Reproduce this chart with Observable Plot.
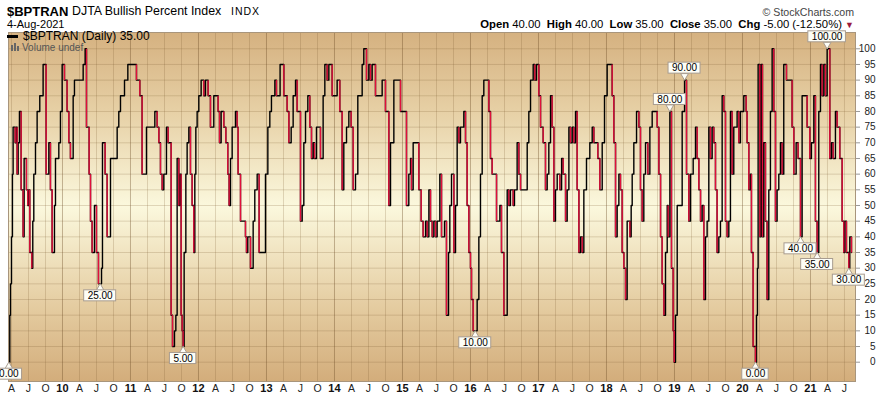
<!DOCTYPE html>
<html><head><meta charset="utf-8">
<script src="https://cdn.jsdelivr.net/npm/d3@7"></script>
<script src="https://cdn.jsdelivr.net/npm/@observablehq/plot@0.6"></script>
<style>
html,body{margin:0;padding:0;background:#fff;}
#wrap{position:relative;width:882px;height:397px;overflow:hidden;font-family:"Liberation Sans",Arial,sans-serif;color:#000;}
#chart{position:absolute;left:0;top:0;}
.ov{position:absolute;white-space:nowrap;line-height:1;z-index:2;}
</style></head><body>
<div id="wrap">
  <div id="chart"></div>
  <div class="ov" style="left:7px;top:4.8px;font-size:13px;font-weight:bold;">$BPTRAN</div>
  <div class="ov" style="left:72px;top:5px;font-size:12.4px;">DJTA Bullish Percent Index</div>
  <div class="ov" style="left:231px;top:5.8px;font-size:10.5px;letter-spacing:1px;">INDX</div>
  <div class="ov" style="left:7px;top:18.9px;font-size:11px;">4-Aug-2021</div>
  <div class="ov" style="right:28px;top:7px;font-size:10.6px;color:#444;">© StockCharts.com</div>
  <div class="ov" style="right:28px;top:18.6px;font-size:11.3px;"><b>Open</b> 40.00&nbsp;&nbsp;<b>High</b> 40.00&nbsp;&nbsp;<b>Low</b> 35.00&nbsp;&nbsp;<b>Close</b> 35.00&nbsp;&nbsp;<b>Chg</b> -5.00 (-12.50%) <span style="color:#9b1b3c;font-size:9px;">▼</span></div>
  <div class="ov" style="left:7px;top:35px;width:11px;height:2.5px;background:#000;"></div>
  <div class="ov" style="left:23px;top:30.3px;font-size:12px;">$BPTRAN (Daily) 35.00</div>
  <div class="ov" style="left:11px;top:45px;width:2px;height:6px;background:#666;"></div>
  <div class="ov" style="left:14px;top:43px;width:2px;height:8px;background:#666;"></div>
  <div class="ov" style="left:17px;top:46px;width:2px;height:5px;background:#666;"></div>
  <div class="ov" style="left:22px;top:43.2px;font-size:10px;color:#555;">Volume undef</div>
</div>
<script>
// $BPTRAN daily values (decimal year, bullish percent)
const bpt2009_2011 = [[2009.211,0],[2009.225,15],[2009.235,25],[2009.250,40],[2009.264,60],[2009.274,75],[2009.304,70],[2009.318,75],[2009.333,60],[2009.348,70],[2009.367,80],[2009.392,55],[2009.421,40],[2009.436,65],[2009.470,55],[2009.490,50],[2009.505,55],[2009.519,35],[2009.549,30],[2009.563,45],[2009.578,60],[2009.603,70],[2009.627,80],[2009.666,85],[2009.715,95],[2009.760,60],[2009.799,70],[2009.823,55],[2009.848,35],[2009.882,50],[2009.897,65],[2009.946,70],[2009.970,80],[2009.995,95],[2010.029,90],[2010.068,80],[2010.093,70],[2010.117,65],[2010.157,85],[2010.176,90],[2010.304,95],[2010.333,100],[2010.353,75],[2010.392,60],[2010.412,45],[2010.436,35],[2010.470,50],[2010.500,35],[2010.529,25],[2010.574,30],[2010.588,70],[2010.627,60],[2010.657,40],[2010.706,65],[2010.804,75],[2010.828,80],[2010.853,85],[2010.912,90],[2010.961,95],[2011.088,90],[2011.137,85],[2011.171,60]];
const bpt2011_2013 = [[2011.235,75],[2011.358,80],[2011.392,75],[2011.417,70],[2011.441,60],[2011.466,55],[2011.490,60],[2011.529,75],[2011.554,70],[2011.598,15],[2011.618,5],[2011.647,10],[2011.667,15],[2011.686,65],[2011.711,50],[2011.725,60],[2011.745,15],[2011.760,10],[2011.774,5],[2011.789,35],[2011.814,60],[2011.833,70],[2011.858,75],[2011.882,60],[2011.907,50],[2011.931,35],[2011.946,60],[2011.961,75],[2011.980,80],[2012.005,85],[2012.039,90],[2012.078,85],[2012.103,90],[2012.142,85],[2012.176,75],[2012.225,85],[2012.289,80],[2012.309,70],[2012.333,80],[2012.372,75],[2012.402,70],[2012.431,60],[2012.451,50],[2012.471,65],[2012.495,75],[2012.544,80],[2012.569,75],[2012.583,60],[2012.618,45],[2012.691,40],[2012.706,35],[2012.725,40],[2012.765,30],[2012.804,45],[2012.828,55],[2012.863,60],[2012.892,35],[2012.985,60],[2013.020,75],[2013.049,80],[2013.073,85],[2013.123,90],[2013.147,85],[2013.200,95]];
const bpt2013_2015 = [[2013.255,85],[2013.304,80],[2013.329,70],[2013.363,75],[2013.392,85],[2013.427,90],[2013.451,80],[2013.500,45],[2013.525,50],[2013.549,70],[2013.574,80],[2013.608,85],[2013.637,75],[2013.662,65],[2013.686,70],[2013.706,65],[2013.735,75],[2013.794,65],[2013.833,85],[2013.858,95],[2013.892,90],[2013.917,95],[2013.966,85],[2014.039,90],[2014.078,80],[2014.113,55],[2014.137,70],[2014.177,75],[2014.211,80],[2014.245,75],[2014.275,55],[2014.309,60],[2014.343,85],[2014.407,95],[2014.431,100],[2014.471,90],[2014.505,95],[2014.529,90],[2014.554,95],[2014.603,85],[2014.701,90],[2014.750,80],[2014.799,50],[2014.824,70],[2014.873,90],[2014.971,80],[2015.059,50],[2015.093,60],[2015.118,65],[2015.132,55],[2015.157,70],[2015.240,55],[2015.275,45],[2015.304,40]];
const bpt2015_2017 = [[2015.339,45],[2015.363,40],[2015.388,55],[2015.412,45],[2015.437,40],[2015.461,45],[2015.486,40],[2015.510,45],[2015.549,60],[2015.574,40],[2015.618,45],[2015.647,15],[2015.677,35],[2015.696,50],[2015.721,60],[2015.755,35],[2015.780,50],[2015.804,75],[2015.829,70],[2015.853,75],[2015.902,80],[2015.927,70],[2015.951,50],[2015.976,35],[2016.000,30],[2016.015,20],[2016.040,10],[2016.098,20],[2016.123,40],[2016.147,60],[2016.172,85],[2016.196,90],[2016.270,80],[2016.294,65],[2016.319,60],[2016.383,45],[2016.432,50],[2016.456,35],[2016.490,15],[2016.540,55],[2016.564,50],[2016.588,55],[2016.628,50],[2016.647,55],[2016.686,70],[2016.711,60],[2016.736,55],[2016.834,70],[2016.858,80],[2016.883,90],[2016.922,95],[2016.946,90],[2016.971,95],[2017.005,85],[2017.030,75],[2017.069,70],[2017.103,55],[2017.128,60],[2017.152,70],[2017.177,85],[2017.201,75],[2017.226,45],[2017.250,55],[2017.275,60],[2017.314,55],[2017.340,65]];
const bpt2017_2019 = [[2017.363,60],[2017.398,45],[2017.422,55],[2017.447,75],[2017.471,70],[2017.496,75],[2017.520,70],[2017.545,80],[2017.569,55],[2017.594,35],[2017.618,40],[2017.643,35],[2017.667,55],[2017.706,65],[2017.755,70],[2017.790,75],[2017.814,70],[2017.873,65],[2017.902,55],[2017.937,70],[2017.971,85],[2018.010,95],[2018.084,85],[2018.108,70],[2018.133,40],[2018.157,50],[2018.182,60],[2018.206,55],[2018.231,35],[2018.255,30],[2018.280,20],[2018.304,45],[2018.344,40],[2018.363,50],[2018.378,60],[2018.402,70],[2018.442,80],[2018.476,75],[2018.500,55],[2018.525,45],[2018.549,60],[2018.574,70],[2018.608,60],[2018.638,75],[2018.672,80],[2018.746,75],[2018.770,60],[2018.795,40],[2018.819,25],[2018.844,15],[2018.868,35],[2018.893,50],[2018.907,40],[2018.932,80],[2018.956,30],[2018.981,10],[2018.996,0],[2019.015,15],[2019.040,50],[2019.113,80],[2019.148,90],[2019.177,60],[2019.211,45],[2019.236,60],[2019.275,65],[2019.309,75],[2019.334,65],[2019.358,55],[2019.383,45],[2019.407,50]];
const bpt2019_2021 = [[2019.431,20],[2019.456,40],[2019.480,45],[2019.505,75],[2019.529,65],[2019.554,75],[2019.578,70],[2019.603,55],[2019.627,35],[2019.652,40],[2019.676,45],[2019.701,85],[2019.725,80],[2019.750,45],[2019.774,40],[2019.799,45],[2019.823,80],[2019.848,60],[2019.872,75],[2019.921,80],[2019.946,70],[2019.970,80],[2020.019,85],[2020.054,80],[2020.068,70],[2020.093,55],[2020.117,60],[2020.132,35],[2020.157,5],[2020.191,0],[2020.206,15],[2020.220,30],[2020.230,95],[2020.255,40],[2020.274,95],[2020.294,40],[2020.313,70],[2020.338,45],[2020.362,20],[2020.387,55],[2020.411,80],[2020.436,100],[2020.460,80],[2020.485,45],[2020.509,55],[2020.534,60],[2020.558,70],[2020.583,60],[2020.607,95],[2020.647,90],[2020.730,75],[2020.755,60],[2020.789,70],[2020.818,65],[2020.853,40],[2020.877,85],[2020.951,75],[2020.990,65],[2021.014,70],[2021.049,85],[2021.073,45],[2021.098,35],[2021.122,80],[2021.147,95],[2021.171,85],[2021.196,95],[2021.220,85],[2021.245,100],[2021.284,65],[2021.309,70],[2021.333,65],[2021.367,80],[2021.392,75],[2021.431,65],[2021.466,45],[2021.490,35],[2021.505,45],[2021.529,35],[2021.564,30],[2021.578,40],[2021.603,35]];

// Annotated extremes
const noteTimes  = [2009.211, 2010.554, 2011.774, 2016.070, 2018.932, 2019.148, 2020.191, 2020.853, 2021.098, 2021.245, 2021.564];
const noteValues = [0, 25, 5, 10, 80, 90, 0, 40, 35, 100, 30];
const noteSides  = ["below","below","below","below","above","above","below","below","below","above","below"];

// Axis ticks
const yTicks = [0,5,10,15,20,25,30,35,40,45,50,55,60,65,70,75,80,85,90,95,100];
const yearTicks = [2010,2011,2012,2013,2014,2015,2016,2017,2018,2019,2020,2021];
const yearLabels = ["10","11","12","13","14","15","16","17","18","19","20","21"];
const quarterLetters = ["A","J","O"];
const xDomain = [2009.206, 2021.662];

const series = [].concat(bpt2009_2011, bpt2011_2013, bpt2013_2015, bpt2015_2017, bpt2017_2019, bpt2019_2021)
  .map(([t, v]) => ({t, v}));

const drops = [];
for (let i = 1; i < series.length; i++) {
  if (series[i].v < series[i-1].v) drops.push({t: series[i].t, v0: series[i-1].v, v1: series[i].v});
}

const quarterTicks = [];
for (let y = 2009; y <= 2021; y++) {
  [0.25, 0.5, 0.75].forEach((q, k) => {
    const t = y + q;
    if (t > xDomain[0] && t < xDomain[1]) quarterTicks.push({t, label: quarterLetters[k]});
  });
}
const qPos = quarterTicks.map(d => d.t);
const qLab = new Map(quarterTicks.map(d => [d.t, d.label]));
const yLab = new Map(yearTicks.map((y, i) => [y, yearLabels[i]]));

const notes = noteTimes.map((t, i) => ({t, v: noteValues[i], side: noteSides[i], text: noteValues[i].toFixed(2)}));

function background(index, scales, values, dims) {
  const ns = "http://www.w3.org/2000/svg";
  const g = document.createElementNS(ns, "g");
  const d = dims || {width: 882, height: 397, marginLeft: 8, marginRight: 27, marginTop: 32, marginBottom: 16};
  g.innerHTML = `<defs><linearGradient id="bpBg" x1="0" y1="0" x2="0" y2="1">
      <stop offset="0" stop-color="#d5b180"/>
      <stop offset="0.22" stop-color="#e6cfa4"/>
      <stop offset="0.5" stop-color="#fbf8dd"/>
      <stop offset="0.78" stop-color="#e5cda2"/>
      <stop offset="1" stop-color="#d3ad7b"/>
    </linearGradient></defs>
    <rect x="${d.marginLeft}" y="${d.marginTop}" width="${d.width - d.marginLeft - d.marginRight}" height="${d.height - d.marginTop - d.marginBottom}" fill="url(#bpBg)"/>`;
  return g;
}

const noteMarks = [];
[4, 5, 6].forEach(len => {
  const sub = notes.filter(n => n.text.length === len);
  const half = len * 2.8 + 2;
  ["below", "above"].forEach(side => {
    const s = sub.filter(n => n.side === side);
    if (!s.length) return;
    const sign = side === "below" ? 1 : -1;
    noteMarks.push(
      Plot.dot(s, {x: "t", y: "v", symbol: "triangle", r: 2.9, rotate: side === "below" ? 0 : 180, dy: sign * 4.3, fill: "#fdfdf6", stroke: "#a89c90", strokeWidth: 1}),
      Plot.rect(s, {x1: "t", x2: "t", y1: "v", y2: "v", insetLeft: -half, insetRight: -half, insetTop: -5.5, insetBottom: -5.5, dy: sign * 12, fill: "#fdfdf6", stroke: "#a89c90", strokeWidth: 1}),
      Plot.text(s, {x: "t", y: "v", text: "text", dy: sign * 12, fontSize: 10, fill: "#000", fontFamily: "Liberation Sans, Arial, sans-serif"})
    );
  });
});

const chart = Plot.plot({
  width: 882,
  height: 397,
  marginLeft: 8,
  marginRight: 27,
  marginTop: 32,
  marginBottom: 16,
  style: {background: "transparent", fontFamily: "Liberation Sans, Arial, sans-serif", overflow: "visible"},
  x: {type: "linear", domain: xDomain},
  y: {domain: [-6.16, 105.2]},
  marks: [
    background,
    Plot.gridY(yTicks, {stroke: "#7a5a30", strokeOpacity: 0.22}),
    Plot.gridX(qPos, {stroke: "#7a5a30", strokeOpacity: 0.22}),
    Plot.gridX(yearTicks, {stroke: "#6a4a25", strokeOpacity: 0.38}),
    Plot.line(series, {x: "t", y: "v", curve: "step-after", stroke: "#000", strokeWidth: 1.4}),
    Plot.link(drops, {x1: "t", x2: "t", y1: "v0", y2: "v1", stroke: "#e0103c", strokeWidth: 1.4}),
    Plot.frame({stroke: "#a8957c", strokeWidth: 1}),
    Plot.axisY(yTicks, {anchor: "right", tickSize: 4, tickPadding: 16, textAnchor: "end", fontSize: 10, stroke: "#999", color: "#222", label: null}),
    Plot.axisX(qPos, {anchor: "bottom", tickSize: 0, tickPadding: 3, fontSize: 10.5, color: "#222", tickFormat: d => qLab.get(d), label: null}),
    Plot.axisX(yearTicks, {anchor: "bottom", tickSize: 0, tickPadding: 3, fontSize: 11, fontWeight: "bold", color: "#111", tickFormat: d => yLab.get(d), label: null}),
    ...noteMarks
  ]
});
document.getElementById("chart").appendChild(chart);
</script>
</body></html>
